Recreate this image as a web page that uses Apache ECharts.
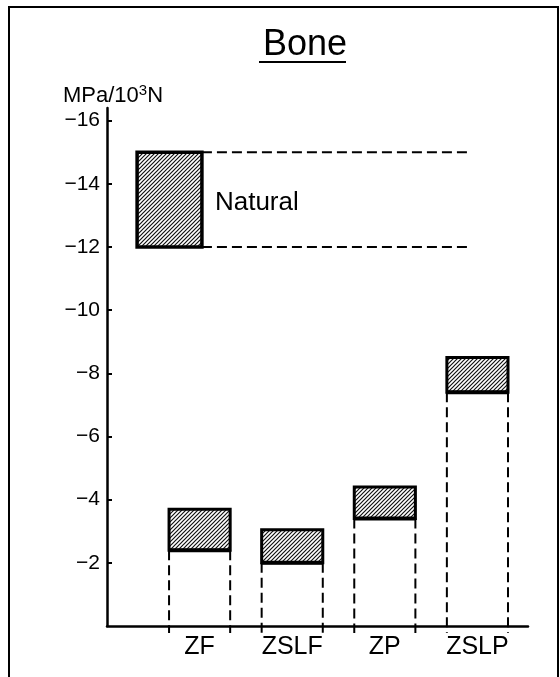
<!DOCTYPE html>
<html><head><meta charset="utf-8">
<script src="https://cdn.jsdelivr.net/npm/echarts@6/dist/echarts.min.js"></script>
<style>html,body{margin:0;padding:0;background:#fff}#c{width:560px;height:677px}</style>
</head><body><div id="c"></div>
<script>
// ---- data ----
const categories = ['ZF', 'ZSLF', 'ZP', 'ZSLP'];
const innerValues = [-2.4, -2.0, -3.4, -7.4];   // edge nearest the axis
const outerValues = [-3.7, -3.05, -4.4, -8.5];  // outer edge
const naturalRange = [-12, -15];
const naturalLabel = 'Natural';
const yTicks = [-16, -14, -12, -10, -8, -6, -4, -2];
const titleText = 'Bone';
const unitParts = ['MPa/10', '3', 'N'];

// ---- layout ----
const FONT = '"Liberation Sans", Arial, Helvetica, sans-serif';
const catPos = [1, 2, 3, 4];
const barW = 0.66;
const natPos = 0.675, natW = 0.7, natLineEnd = 3.92;

function makeHatch() {
  const s = 4;
  const c = document.createElement('canvas'); c.width = s; c.height = s;
  const g = c.getContext('2d');
  g.fillStyle = '#fff'; g.fillRect(0, 0, s, s);
  g.strokeStyle = '#111'; g.lineWidth = 1.2;
  g.beginPath();
  g.moveTo(-1, s + 1); g.lineTo(s + 1, -1);
  g.moveTo(-1, 1); g.lineTo(1, -1);
  g.moveTo(s - 1, s + 1); g.lineTo(s + 1, s - 1);
  g.stroke();
  return c;
}
const hatch = { image: makeHatch(), repeat: 'repeat' };
const dashStyle = { stroke: '#000', lineWidth: 2, lineDash: [10, 5] };

const chart = echarts.init(document.getElementById('c'), null, { renderer: 'canvas' });

chart.setOption({
  animation: false,
  backgroundColor: '#fff',
  title: [
    { text: titleText, left: 258, top: 22, textStyle: { fontSize: 36, fontWeight: 'normal', fontFamily: FONT, color: '#000' } },
    {
      text: '{a|' + unitParts[0] + '}{s|' + unitParts[1] + '}{a|' + unitParts[2] + '}',
      left: 58, top: 78,
      textStyle: {
        fontFamily: FONT, color: '#000', fontWeight: 'normal',
        rich: {
          a: { fontSize: 22, lineHeight: 26, fontFamily: FONT, fontWeight: 'normal', color: '#000' },
          s: { fontSize: 15, lineHeight: 15, verticalAlign: 'top', fontFamily: FONT, fontWeight: 'normal', color: '#000' }
        }
      }
    }
  ],
  graphic: [
    { type: 'rect', shape: { x: 9, y: 7, width: 549, height: 720 }, style: { fill: null, stroke: '#000', lineWidth: 2 }, silent: true },
    { type: 'line', shape: { x1: 259, y1: 62, x2: 346, y2: 62 }, style: { stroke: '#000', lineWidth: 2 }, silent: true }
  ],
  grid: { left: 107, right: 32, top: 108, bottom: 51, containLabel: false },
  xAxis: {
    type: 'value', min: 0, max: 4.546,
    splitLine: { show: false },
    axisLine: { show: true, lineStyle: { color: '#000', width: 2.5 } },
    axisTick: { show: false },
    axisLabel: {
      customValues: catPos,
      formatter: v => categories[Math.round(v) - 1] || '',
      fontSize: 25, fontFamily: FONT, color: '#000', margin: 9
    }
  },
  yAxis: {
    type: 'value', inverse: true, min: -16.4, max: 0,
    splitLine: { show: false },
    axisLine: { show: true, lineStyle: { color: '#000', width: 2.5 } },
    axisTick: { show: true, inside: true, length: 5, customValues: yTicks, lineStyle: { color: '#000', width: 2 } },
    axisLabel: {
      customValues: yTicks,
      formatter: v => String(v).replace('-', '\u2212'),
      fontSize: 21, fontFamily: FONT, color: '#000', margin: 7
    }
  },
  series: [
    {
      type: 'custom', clip: false, silent: true,
      data: categories.map((c, i) => [catPos[i], innerValues[i], outerValues[i]]),
      renderItem: function (params, api) {
        const x = api.value(0), lo = api.value(1), hi = api.value(2);
        const tl = api.coord([x - barW / 2, hi]);
        const br = api.coord([x + barW / 2, lo]);
        const base = api.coord([x, 0.22]);
        return {
          type: 'group',
          children: [
            { type: 'line', shape: { x1: tl[0], y1: br[1], x2: tl[0], y2: base[1] }, style: dashStyle },
            { type: 'line', shape: { x1: br[0], y1: br[1], x2: br[0], y2: base[1] }, style: dashStyle },
            { type: 'rect', shape: { x: tl[0], y: tl[1], width: br[0] - tl[0], height: br[1] - tl[1] }, style: { fill: hatch, stroke: '#000', lineWidth: 3 } },
            { type: 'line', shape: { x1: tl[0], y1: br[1], x2: br[0], y2: br[1] }, style: { stroke: '#000', lineWidth: 4 } }
          ]
        };
      }
    },
    {
      type: 'custom', clip: false, silent: true,
      data: [[natPos, naturalRange[0], naturalRange[1]]],
      renderItem: function (params, api) {
        const x = api.value(0), lo = api.value(1), hi = api.value(2);
        const tl = api.coord([x - natW / 2, hi]);
        const br = api.coord([x + natW / 2, lo]);
        const end = api.coord([natLineEnd, lo]);
        const mid = api.coord([x, (lo + hi) / 2]);
        return {
          type: 'group',
          children: [
            { type: 'line', shape: { x1: br[0], y1: tl[1], x2: end[0], y2: tl[1] }, style: dashStyle },
            { type: 'line', shape: { x1: br[0], y1: br[1], x2: end[0], y2: br[1] }, style: dashStyle },
            { type: 'rect', shape: { x: tl[0], y: tl[1], width: br[0] - tl[0], height: br[1] - tl[1] }, style: { fill: hatch, stroke: '#000', lineWidth: 3.5 } },
            { type: 'text', style: { text: naturalLabel, x: br[0] + 13, y: mid[1] + 3, verticalAlign: 'middle', font: '26px ' + FONT, fill: '#000' } }
          ]
        };
      }
    }
  ]
});
</script>
</body></html>
